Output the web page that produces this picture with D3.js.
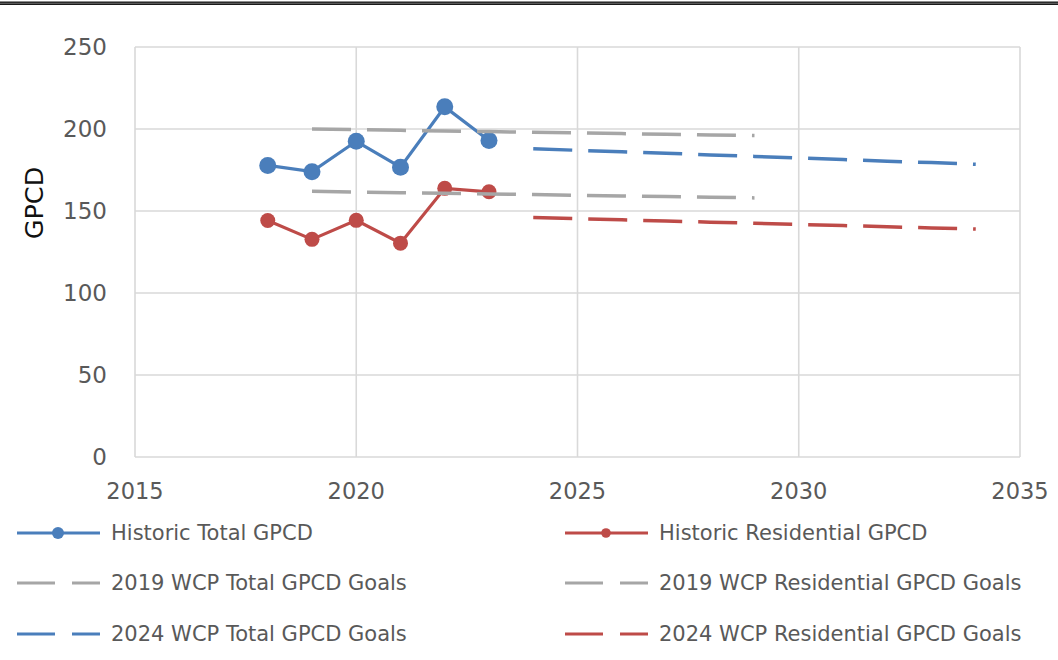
<!DOCTYPE html>
<html lang="en">
<head>
  <meta charset="UTF-8">
  <title>GPCD</title>
  <script src="https://d3js.org/d3.v7.min.js"></script>
</head>
<body style="margin: 0; padding: 0; background-color: white;">
<svg id="chart" width="1058" height="660"></svg>
<script>

// Data
const histYears = [2018, 2019, 2020, 2021, 2022, 2023];
const histTotal = [177.8, 174, 192.5, 176.7, 213.5, 193];
const histResidential = [144.2, 132.7, 144.3, 130.4, 163.8, 161.7];

const goals2019Years = [2019, 2020, 2021, 2022, 2023, 2024, 2025, 2026, 2027, 2028, 2029];
const goals2019Total = [200, 199.6, 199.2, 198.8, 198.4, 198, 197.6, 197.2, 196.8, 196.4, 196];
const goals2019Residential = [162, 161.6, 161.2, 160.8, 160.4, 160, 159.6, 159.2, 158.8, 158.4, 158];

const goals2024Years = [2024, 2025, 2026, 2027, 2028, 2029, 2030, 2031, 2032, 2033, 2034];
const goals2024Total = [188, 187, 186.1, 185.2, 184.2, 183.3, 182.3, 181.4, 180.4, 179.5, 178.5];
const goals2024Residential = [146, 145.3, 144.6, 143.9, 143.2, 142.5, 141.8, 141.1, 140.4, 139.7, 139];

const xTicks = [2015, 2020, 2025, 2030, 2035];
const yTicks = [0, 50, 100, 150, 200, 250];

const blue = "#4a7ebb";
const red = "#be4b48";
const gray = "#a6a6a6";
const textColor = "#595959";
const font = "'DejaVu Sans', sans-serif";

const series = [
  { name: "Historic Total GPCD", years: histYears, values: histTotal, color: blue, dashed: false, r: 8.5, lr: 6 },
  { name: "Historic Residential GPCD", years: histYears, values: histResidential, color: red, dashed: false, r: 7.5, lr: 4.8 },
  { name: "2019 WCP Total GPCD Goals", years: goals2019Years, values: goals2019Total, color: gray, dashed: true },
  { name: "2019 WCP Residential GPCD Goals", years: goals2019Years, values: goals2019Residential, color: gray, dashed: true },
  { name: "2024 WCP Total GPCD Goals", years: goals2024Years, values: goals2024Total, color: blue, dashed: true },
  { name: "2024 WCP Residential GPCD Goals", years: goals2024Years, values: goals2024Residential, color: red, dashed: true }
];

const svg = d3.select("#chart");

// top border line
svg.append("rect").attr("x", 0).attr("y", 1.5).attr("width", 1058).attr("height", 3.5).attr("fill", "#1a1a1a");
svg.append("rect").attr("x", 0).attr("y", 2.8).attr("width", 1058).attr("height", 0.9).attr("fill", "#777");

const plotLeft = 135, plotRight = 1020, plotTop = 47, plotBottom = 457;

const x = d3.scaleLinear().domain([2015, 2035]).range([plotLeft, plotRight]);
const y = d3.scaleLinear().domain([0, 250]).range([plotBottom, plotTop]);

// grid
svg.append("g").selectAll("line").data(yTicks).enter().append("line")
  .attr("x1", plotLeft).attr("x2", plotRight)
  .attr("y1", d => y(d)).attr("y2", d => y(d))
  .attr("stroke", "#d9d9d9").attr("stroke-width", 1.6);
svg.append("g").selectAll("line").data(xTicks).enter().append("line")
  .attr("y1", plotTop).attr("y2", plotBottom)
  .attr("x1", d => x(d)).attr("x2", d => x(d))
  .attr("stroke", "#d9d9d9").attr("stroke-width", 1.6);

// axis labels
svg.append("g").selectAll("text").data(yTicks).enter().append("text")
  .attr("x", 107).attr("y", d => y(d) + 8)
  .attr("text-anchor", "end")
  .style("font-family", font).style("font-size", "23px").style("fill", textColor)
  .text(d => d);
svg.append("g").selectAll("text").data(xTicks).enter().append("text")
  .attr("x", d => x(d)).attr("y", 499)
  .attr("text-anchor", "middle")
  .style("font-family", font).style("font-size", "22.5px").style("fill", textColor)
  .text(d => d);

svg.append("text")
  .attr("transform", "translate(43, 203) rotate(-90)")
  .attr("text-anchor", "middle")
  .style("font-family", font).style("font-size", "25.5px").style("fill", "#111")
  .text("GPCD");

// lines
const line = d3.line().x(d => x(d[0])).y(d => y(d[1]));

series.forEach(s => {
  const pts = s.years.map((yr, i) => [yr, s.values[i]]);
  svg.append("path")
    .datum(pts)
    .attr("d", line)
    .attr("fill", "none")
    .attr("stroke", s.color)
    .attr("stroke-width", s.dashed ? 3.5 : 3.2)
    .attr("stroke-dasharray", s.dashed ? "39,16" : null);
  if (!s.dashed) {
    svg.append("g").selectAll("circle").data(pts).enter().append("circle")
      .attr("cx", d => x(d[0])).attr("cy", d => y(d[1]))
      .attr("r", s.r).attr("fill", s.color);
  }
});

// legend
const legendRows = [533, 583, 634];
const legend = svg.append("g");
series.forEach((s, i) => {
  const col = i % 2;
  const row = Math.floor(i / 2);
  const lx = col === 0 ? 17 : 565;
  const ly = legendRows[row];
  legend.append("line")
    .attr("x1", lx).attr("x2", lx + 83)
    .attr("y1", ly).attr("y2", ly)
    .attr("stroke", s.color).attr("stroke-width", 3.2)
    .attr("stroke-dasharray", s.dashed ? "38,17" : null);
  if (!s.dashed) {
    legend.append("circle").attr("cx", lx + 41).attr("cy", ly).attr("r", s.lr).attr("fill", s.color);
  }
  legend.append("text")
    .attr("x", lx + 94).attr("y", ly + 7)
    .style("font-family", font).style("font-size", "21px").style("fill", textColor)
    .text(s.name);
});

</script>
</body>
</html>
